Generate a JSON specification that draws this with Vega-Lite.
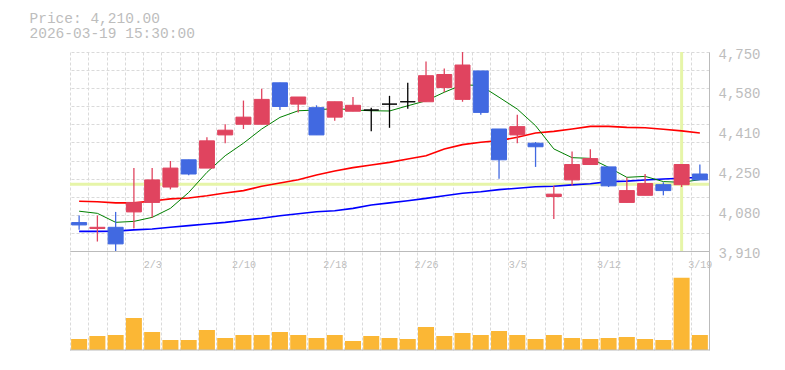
{
  "$schema": "https://vega.github.io/schema/vega-lite/v6.json",
  "background": "white",
  "padding": {"left": 29, "top": 10, "right": 5, "bottom": 5},
  "bounds": "flush",
  "spacing": 0,
  "title": {
    "text": "Price: 4,210.00",
    "subtitle": "2026-03-19 15:30:00",
    "anchor": "start",
    "dx": -39,
    "offset": 6,
    "font": "Liberation Mono",
    "fontSize": 14.5,
    "fontWeight": "normal",
    "color": "#bdbdbd",
    "subtitleFont": "Liberation Mono",
    "subtitleFontSize": 14.5,
    "subtitleColor": "#bdbdbd",
    "subtitlePadding": 0.5
  },
  "config": {
    "view": {"stroke": null},
    "axis": {
      "labelFont": "Liberation Mono",
      "labelColor": "#bdbdbd",
      "domainColor": "#bbbbbb",
      "gridColor": "#dadada",
      "gridDash": [3, 2],
      "title": null
    }
  },
  "datasets": {
    "k": [
      {"d":"1/28","o":4030,"h":4060,"l":4000,"c":4020,"v":110,"m5":4078,"m25":4120,"m75":3993},
      {"d":"1/29","o":4005,"h":4060,"l":3950,"c":4010,"v":140,"m5":4069,"m25":4118,"m75":3993},
      {"d":"1/30","o":4010,"h":4075,"l":3910,"c":3940,"v":150,"m5":4031,"m25":4113,"m75":3994},
      {"d":"2/2","o":4075,"h":4260,"l":4005,"c":4115,"v":320,"m5":4035,"m25":4113,"m75":3999},
      {"d":"2/3","o":4115,"h":4260,"l":4050,"c":4210,"v":180,"m5":4052,"m25":4121,"m75":4003},
      {"d":"2/4","o":4180,"h":4290,"l":4170,"c":4260,"v":100,"m5":4090,"m25":4130,"m75":4010},
      {"d":"2/5","o":4295,"h":4295,"l":4230,"c":4235,"v":100,"m5":4157,"m25":4134,"m75":4017},
      {"d":"2/6","o":4260,"h":4390,"l":4260,"c":4375,"v":200,"m5":4242,"m25":4143,"m75":4024},
      {"d":"2/9","o":4400,"h":4445,"l":4365,"c":4420,"v":120,"m5":4312,"m25":4155,"m75":4031},
      {"d":"2/10","o":4445,"h":4545,"l":4425,"c":4475,"v":150,"m5":4365,"m25":4165,"m75":4040},
      {"d":"2/12","o":4445,"h":4595,"l":4445,"c":4550,"v":150,"m5":4425,"m25":4183,"m75":4048},
      {"d":"2/13","o":4620,"h":4620,"l":4505,"c":4520,"v":180,"m5":4474,"m25":4197,"m75":4059},
      {"d":"2/16","o":4530,"h":4560,"l":4495,"c":4560,"v":150,"m5":4502,"m25":4211,"m75":4067},
      {"d":"2/17","o":4515,"h":4525,"l":4400,"c":4400,"v":120,"m5":4505,"m25":4231,"m75":4076},
      {"d":"2/18","o":4475,"h":4540,"l":4460,"c":4540,"v":150,"m5":4512,"m25":4248,"m75":4080},
      {"d":"2/19","o":4500,"h":4560,"l":4500,"c":4525,"v":90,"m5":4505,"m25":4262,"m75":4090},
      {"d":"2/20","o":4505,"h":4515,"l":4415,"c":4505,"v":140,"m5":4502,"m25":4273,"m75":4104},
      {"d":"2/24","o":4530,"h":4565,"l":4430,"c":4530,"v":120,"m5":4501,"m25":4284,"m75":4113},
      {"d":"2/25","o":4540,"h":4620,"l":4510,"c":4540,"v":110,"m5":4523,"m25":4298,"m75":4122},
      {"d":"2/26","o":4540,"h":4710,"l":4540,"c":4650,"v":230,"m5":4544,"m25":4312,"m75":4132},
      {"d":"2/27","o":4600,"h":4680,"l":4580,"c":4655,"v":140,"m5":4580,"m25":4341,"m75":4143},
      {"d":"3/2","o":4550,"h":4750,"l":4540,"c":4695,"v":170,"m5":4612,"m25":4359,"m75":4154},
      {"d":"3/3","o":4670,"h":4670,"l":4485,"c":4495,"v":150,"m5":4608,"m25":4369,"m75":4160},
      {"d":"3/4","o":4425,"h":4425,"l":4215,"c":4295,"v":190,"m5":4559,"m25":4376,"m75":4169},
      {"d":"3/5","o":4400,"h":4485,"l":4365,"c":4435,"v":150,"m5":4509,"m25":4390,"m75":4175},
      {"d":"3/6","o":4365,"h":4370,"l":4265,"c":4350,"v":110,"m5":4439,"m25":4408,"m75":4181},
      {"d":"3/9","o":4140,"h":4185,"l":4045,"c":4150,"v":150,"m5":4341,"m25":4415,"m75":4183},
      {"d":"3/10","o":4210,"h":4330,"l":4185,"c":4275,"v":120,"m5":4304,"m25":4425,"m75":4189},
      {"d":"3/11","o":4275,"h":4340,"l":4275,"c":4300,"v":110,"m5":4301,"m25":4436,"m75":4194},
      {"d":"3/12","o":4265,"h":4265,"l":4180,"c":4185,"v":120,"m5":4263,"m25":4436,"m75":4203},
      {"d":"3/13","o":4115,"h":4220,"l":4115,"c":4165,"v":130,"m5":4221,"m25":4432,"m75":4205},
      {"d":"3/16","o":4145,"h":4235,"l":4145,"c":4195,"v":110,"m5":4225,"m25":4430,"m75":4210},
      {"d":"3/17","o":4190,"h":4200,"l":4145,"c":4165,"v":100,"m5":4203,"m25":4424,"m75":4214},
      {"d":"3/18","o":4190,"h":4275,"l":4180,"c":4275,"v":723,"m5":4200,"m25":4417,"m75":4217},
      {"d":"3/19","o":4235,"h":4275,"l":4210,"c":4210,"v":150,"m5":4211,"m25":4408,"m75":4221}
    ]
  },
  "vconcat": [
    {
      "width": 639,
      "height": 199,
      "data": {"name": "k"},
      "resolve": {"axis": {"y": "independent"}},
      "layer": [
        {
          "data": {"values": [{"p": 4192}]},
          "mark": {"type": "rule", "color": "#e6f5a8", "strokeWidth": 3},
          "encoding": {
            "y": {
              "field": "p", "type": "quantitative",
              "scale": {"domain": [3910, 4750], "nice": false, "zero": false},
              "axis": {
                "orient": "right", "labels": false, "ticks": false, "domain": false, "grid": true,
                "values": [3910, 3986.36, 4062.73, 4139.09, 4215.45, 4291.82, 4368.18, 4444.55, 4520.91, 4597.27, 4673.64, 4750]
              }
            }
          }
        },
        {
          "transform": [{"filter": "datum.d == '3/18'"}],
          "mark": {"type": "rule", "color": "#e6f5a8", "strokeWidth": 3},
          "encoding": {
            "x": {"field": "d", "type": "ordinal", "sort": null}
          }
        },
        {
          "mark": {"type": "line", "color": "#ff0000", "strokeWidth": 1.6},
          "encoding": {
            "x": {"field": "d", "type": "ordinal", "sort": null},
            "y": {"field": "m25", "type": "quantitative", "scale": {"domain": [3910, 4750], "nice": false, "zero": false}, "axis": null}
          }
        },
        {
          "mark": {"type": "line", "color": "#0000ff", "strokeWidth": 1.6},
          "encoding": {
            "x": {"field": "d", "type": "ordinal", "sort": null},
            "y": {"field": "m75", "type": "quantitative", "scale": {"domain": [3910, 4750], "nice": false, "zero": false}, "axis": null}
          }
        },
        {
          "mark": {"type": "line", "color": "#008000", "strokeWidth": 1},
          "encoding": {
            "x": {"field": "d", "type": "ordinal", "sort": null},
            "y": {"field": "m5", "type": "quantitative", "scale": {"domain": [3910, 4750], "nice": false, "zero": false}, "axis": null}
          }
        },
        {
          "mark": {"type": "rule", "strokeWidth": 1.3},
          "encoding": {
            "x": {"field": "d", "type": "ordinal", "sort": null},
            "y": {"field": "l", "type": "quantitative", "scale": {"domain": [3910, 4750], "nice": false, "zero": false}, "axis": null},
            "y2": {"field": "h"},
            "color": {
              "condition": [
                {"test": "datum.c > datum.o", "value": "#e0445f"},
                {"test": "datum.c < datum.o", "value": "#4169e1"}
              ],
              "value": "#000000"
            }
          }
        },
        {
          "mark": {"type": "bar", "size": 15, "strokeWidth": 1},
          "encoding": {
            "x": {
              "field": "d", "type": "ordinal", "sort": null,
              "scale": {"type": "band", "paddingInner": 0, "paddingOuter": 0,
                "domain": ["1/28","1/29","1/30","2/2","2/3","2/4","2/5","2/6","2/9","2/10","2/12","2/13","2/16","2/17","2/18","2/19","2/20","2/24","2/25","2/26","2/27","3/2","3/3","3/4","3/5","3/6","3/9","3/10","3/11","3/12","3/13","3/16","3/17","3/18","3/19"]},
              "axis": {"labels": false, "ticks": false, "tickBand": "extent", "grid": true, "domain": true}
            },
            "y": {
              "field": "o", "type": "quantitative",
              "scale": {"domain": [3910, 4750], "nice": false, "zero": false},
              "axis": {
                "orient": "right", "grid": false, "ticks": false, "domain": true,
                "values": [3910, 4078, 4246, 4414, 4582, 4750],
                "labelExpr": "format(round(datum.value/10)*10, ',')",
                "labelFontSize": 14, "labelPadding": 9, "labelOffset": 2, "labelFlush": false
              }
            },
            "y2": {"field": "c"},
            "color": {
              "condition": [
                {"test": "datum.c > datum.o", "value": "#e0445f"},
                {"test": "datum.c < datum.o", "value": "#4169e1"}
              ],
              "value": "#000000"
            },
            "stroke": {
              "condition": [
                {"test": "datum.c > datum.o", "value": "#e0445f"},
                {"test": "datum.c < datum.o", "value": "#4169e1"}
              ],
              "value": "#000000"
            }
          }
        }
      ]
    },
    {
      "width": 639,
      "height": 99,
      "data": {"name": "k"},
      "layer": [
        {
          "mark": {"type": "bar", "color": "#fbb735", "size": 16},
          "encoding": {
            "x": {
              "field": "d", "type": "ordinal", "sort": null,
              "scale": {"type": "band", "paddingInner": 0, "paddingOuter": 0,
                "domain": ["1/28","1/29","1/30","2/2","2/3","2/4","2/5","2/6","2/9","2/10","2/12","2/13","2/16","2/17","2/18","2/19","2/20","2/24","2/25","2/26","2/27","3/2","3/3","3/4","3/5","3/6","3/9","3/10","3/11","3/12","3/13","3/16","3/17","3/18","3/19"]},
              "axis": {
                "orient": "top", "tickBand": "extent", "grid": true, "ticks": false, "tickSize": 0, "domain": true,
                "labelExpr": "indexof(['2/3','2/10','2/18','2/26','3/5','3/12','3/19'], datum.value) >= 0 ? datum.value : ''",
                "labelAngle": 0, "labelFontSize": 10, "labelPadding": -16, "labelBaseline": "alphabetic",
                "labelOverlap": false, "labelBound": false, "labelFlush": false
              }
            },
            "y": {
              "field": "v", "type": "quantitative",
              "scale": {"domain": [0, 990], "nice": false},
              "axis": {"orient": "right", "labels": false, "ticks": false, "grid": false, "domain": true}
            }
          }
        },
        {
          "data": {"values": [{"b": 0}]},
          "mark": {"type": "rule", "color": "#bbbbbb", "strokeWidth": 1},
          "encoding": {
            "y": {"field": "b", "type": "quantitative"}
          }
        }
      ]
    }
  ]
}
